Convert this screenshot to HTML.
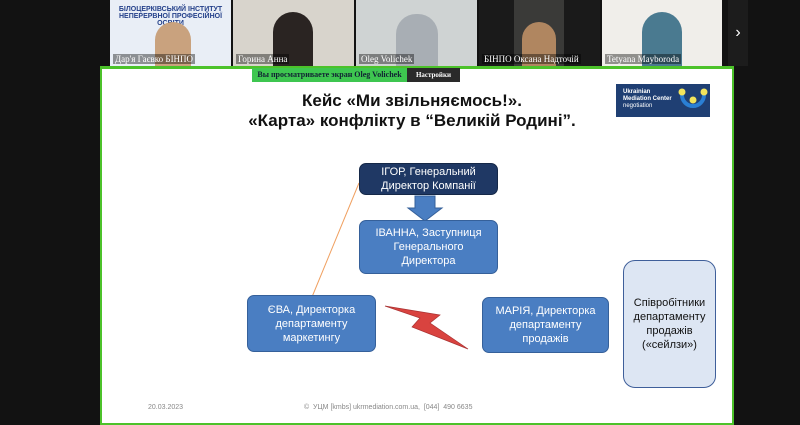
<!DOCTYPE html>
<html><head><meta charset="utf-8"><style>
body{margin:0;width:800px;height:425px;background:#121212;position:relative;overflow:hidden;font-family:"Liberation Sans","DejaVu Sans",sans-serif}
.t{position:absolute;top:0;height:66px;width:121px;overflow:hidden}
.n{position:absolute;bottom:2px;left:3px;font:9px "Liberation Serif",serif;color:#fff;background:rgba(0,0,0,.4);padding:0 2px}
#slide{position:absolute;left:100px;top:66px;width:630px;height:354px;background:#fff;border:2px solid #4cc22a;border-top-width:3px}
.b{position:absolute;box-sizing:border-box;background:#4a7ec2;border:1.5px solid #35609a;border-radius:7px;color:#fff;font-size:11px;line-height:14px;text-align:center;display:flex;align-items:center;justify-content:center}
</style></head><body>
<div class="t" style="left:110px;background:#e9eef6"><div style="font:bold 7px sans-serif;color:#24408a;text-align:center;margin-top:6px">БІЛОЦЕРКІВСЬКИЙ ІНСТИТУТ<br>НЕПЕРЕРВНОЇ ПРОФЕСІЙНОЇ ОСВІТИ</div><div style="position:absolute;left:45px;top:22px;width:36px;height:44px;background:#c9a27e;border-radius:18px 18px 0 0"></div><div class="n">Дар'я Гаєвко БІНПО</div></div>
<div class="t" style="left:233px;background:#d8d4cc"><div style="position:absolute;left:40px;top:12px;width:40px;height:54px;background:#2a2422;border-radius:20px 20px 0 0"></div><div class="n">Горина Анна</div></div>
<div class="t" style="left:356px;background:#cfd3d3"><div style="position:absolute;left:40px;top:14px;width:42px;height:52px;background:#a8aeb4;border-radius:20px 20px 0 0"></div><div class="n">Oleg Volichek</div></div>
<div class="t" style="left:479px;background:#1a1a1a"><div style="position:absolute;left:35px;top:0;width:50px;height:66px;background:#3a3a38"></div><div style="position:absolute;left:43px;top:22px;width:34px;height:44px;background:#b08660;border-radius:17px 17px 0 0"></div><div class="n">БІНПО Оксана Надточій</div></div>
<div class="t" style="left:602px;width:120px;background:#f0eeea"><div style="position:absolute;left:40px;top:12px;width:40px;height:54px;background:#4a7a90;border-radius:20px 20px 0 0"></div><div class="n">Tetyana Mayboroda</div></div>
<div style="position:absolute;left:728px;top:0;width:20px;height:66px;background:#1c1c1c;color:#fff;font-size:16px;line-height:66px;text-align:center">›</div>
<div id="slide">
<div style="position:absolute;left:150px;top:-1px;width:155px;height:14px;background:#3ec650;color:#123;font:bold 8px 'Liberation Serif',serif;line-height:14px;text-align:center">Вы просматриваете экран Oleg Volichek</div>
<div style="position:absolute;left:305px;top:-1px;width:53px;height:14px;background:#2a2a2a;color:#fff;font:bold 7px 'Liberation Serif',serif;line-height:14px;text-align:center">Настройки просмотра</div>
<div style="position:absolute;left:0;width:620px;top:22px;text-align:center;font-weight:bold;font-size:17px;line-height:20px;color:#111">Кейс «Ми звільняємось!».<br>«Карта» конфлікту в “Великій Родині”.</div>
<div style="position:absolute;left:514px;top:15px;width:94px;height:33px;background:#1f3f73;color:#fff;font-size:6px;line-height:7px;padding:5px 0 0 7px;box-sizing:border-box"><b>Ukrainian<br>Mediation Center</b><br>negotiation
<svg style="position:absolute;left:62px;top:3px" width="30" height="26"><path d="M4 8 A11 11 0 0 0 26 8" stroke="#2a7fd4" stroke-width="4" fill="none"/><circle cx="4" cy="5" r="3.5" fill="#f2e45c"/><circle cx="26" cy="5" r="3.5" fill="#f2e45c"/><circle cx="15" cy="13" r="3.5" fill="#f2e45c"/></svg></div>
<svg style="position:absolute;left:0;top:0" width="630" height="354">
<line x1="257" y1="114" x2="210" y2="228" stroke="#f0a060" stroke-width="1"/>
<polygon points="313,127 333,127 333,139 340,139 323,152 306,139 313,139" fill="#4a7ec2" stroke="#35609a"/>
<polygon points="283,237 338,246 328,254 366,280 310,258 318,249" fill="#d9433f" stroke="#a33" stroke-width=".7"/>
</svg>
<div class="b" style="left:257px;top:94px;width:139px;height:32px;background:#1f3864;border-color:#152848">ІГОР, Генеральний<br>Директор Компанії</div>
<div class="b" style="left:257px;top:151px;width:139px;height:54px">ІВАННА, Заступниця<br>Генерального<br>Директора</div>
<div class="b" style="left:145px;top:226px;width:129px;height:57px">ЄВА, Директорка<br>департаменту<br>маркетингу</div>
<div class="b" style="left:380px;top:228px;width:127px;height:56px">МАРІЯ, Директорка<br>департаменту<br>продажів</div>
<div class="b" style="left:521px;top:191px;width:93px;height:128px;background:#dde6f3;border-color:#3f5f9a;color:#111;border-radius:12px;font-size:11px">Співробітники<br>департаменту<br>продажів<br>(«сейлзи»)</div>
<div style="position:absolute;left:46px;top:335px;font-size:7px;color:#888">20.03.2023</div>
<div style="position:absolute;left:202px;top:335px;font-size:7px;color:#888">©&nbsp; УЦМ [kmbs] ukrmediation.com.ua,&nbsp; [044]&nbsp; 490 6635</div>
</div>
</body></html>
